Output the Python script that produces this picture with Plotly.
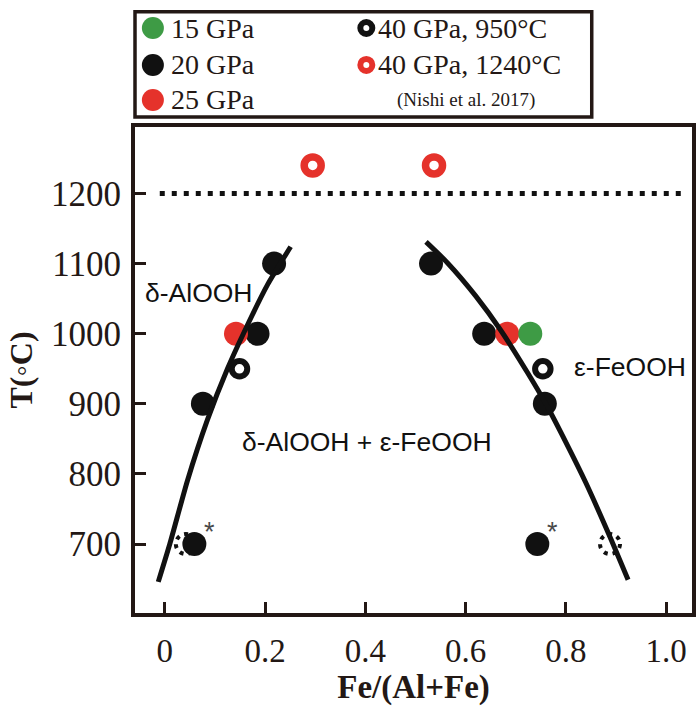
import plotly.graph_objects as go

# ---- run products: Fe/(Al+Fe) of the starting composition vs. temperature ----
fe_15gpa = [0.729]
t_15gpa = [1000]

fe_20gpa = [0.059, 0.076, 0.185, 0.218, 0.531, 0.637, 0.758, 0.743]
t_20gpa = [700, 900, 1000, 1100, 1100, 1000, 900, 700]

fe_25gpa = [0.142, 0.683]
t_25gpa = [1000, 1000]

# Nishi et al. (2017), 40 GPa
fe_40gpa_950 = [0.149, 0.754]
t_40gpa_950 = [950, 950]
fe_40gpa_1240 = [0.295, 0.537]
t_40gpa_1240 = [1240, 1240]

# dotted open symbols and starred runs at 700 °C
fe_dotted = [0.042, 0.888]
t_dotted = [700, 700]
fe_starred = [0.059, 0.743]
t_starred = [700, 700]

# solvus limbs of the δ-AlOOH + ε-FeOOH field
left_fe = [-0.013, 0.010, 0.045, 0.085, 0.125, 0.160, 0.205, 0.251]
left_t = [646, 700, 790, 877, 950, 1005, 1070, 1124]
right_fe = [0.521, 0.564, 0.620, 0.670, 0.723, 0.760, 0.800, 0.840, 0.888, 0.924]
right_t = [1131, 1101, 1054, 1005, 945, 900, 845, 787, 710, 649]

# 1200 °C reference level
ref_fe = [-0.01, 1.04]
ref_t = [1200, 1200]

x_ticks = [0, 0.2, 0.4, 0.6, 0.8, 1.0]
x_ticktext = ["0", "0.2", "0.4", "0.6", "0.8", "1.0"]
y_ticks = [700, 800, 900, 1000, 1100, 1200]

GREEN = "#3E9B45"
RED = "#E5322B"
BLACK = "#111111"
INK = "#231815"
SERIF = "Liberation Serif, Times New Roman, serif"
SANS = "Liberation Sans, Arial, sans-serif"

fig = go.Figure()

# 1200 °C dotted level
fig.add_trace(go.Scatter(x=ref_fe, y=ref_t, mode="lines",
                         line=dict(color=BLACK, width=5, dash="5px,7px"),
                         hoverinfo="skip", showlegend=False))

# filled symbols
for fe, t, col, name in [(fe_20gpa, t_20gpa, BLACK, "20 GPa"),
                         (fe_25gpa, t_25gpa, RED, "25 GPa"),
                         (fe_15gpa, t_15gpa, GREEN, "15 GPa")]:
    fig.add_trace(go.Scatter(x=fe, y=t, mode="markers", name=name,
                             marker=dict(symbol="circle", size=24, color=col,
                                         line=dict(width=0)),
                             showlegend=False))

# phase boundaries
for fe, t in [(left_fe, left_t), (right_fe, right_t)]:
    fig.add_trace(go.Scatter(x=fe, y=t, mode="lines",
                             line=dict(color=BLACK, width=5, shape="spline", smoothing=0.6),
                             hoverinfo="skip", showlegend=False))

# open symbols (40 GPa)
fig.add_trace(go.Scatter(x=fe_40gpa_950, y=t_40gpa_950, mode="markers", name="40 GPa, 950°C",
                         marker=dict(symbol="circle", size=15.5, color="white",
                                     line=dict(color=BLACK, width=6)),
                         showlegend=False))
fig.add_trace(go.Scatter(x=fe_40gpa_1240, y=t_40gpa_1240, mode="markers", name="40 GPa, 1240°C",
                         marker=dict(symbol="circle", size=17, color="white",
                                     line=dict(color=RED, width=7.5)),
                         showlegend=False))

shapes = []
# dotted open circles at 700 °C
for fe, t in zip(fe_dotted, t_dotted):
    shapes.append(dict(type="circle", xref="x", yref="y", xsizemode="pixel", ysizemode="pixel",
                       xanchor=fe, yanchor=t, x0=-10, x1=10, y0=-10, y1=10,
                       line=dict(color=BLACK, width=4, dash="4px,5px"),
                       fillcolor="rgba(0,0,0,0)", layer="below"))

annotations = []
for fe, t in zip(fe_starred, t_starred):
    annotations.append(dict(x=fe, y=t, xref="x", yref="y", text="*", showarrow=False,
                            xshift=15, yshift=12, font=dict(family=SANS, size=27, color="#4a4a4a")))

# field labels
annotations += [
    dict(x=0.069, y=1058, xref="x", yref="y", text="δ-AlOOH", showarrow=False,
         font=dict(family=SANS, size=26.5, color=BLACK)),
    dict(x=0.403, y=845, xref="x", yref="y", text="δ-AlOOH + ε-FeOOH", showarrow=False,
         font=dict(family=SANS, size=26.5, color=BLACK)),
    dict(x=0.928, y=952, xref="x", yref="y", text="ε-FeOOH", showarrow=False,
         font=dict(family=SANS, size=26.5, color=BLACK)),
]

# ---- legend panel above the plot ----
shapes.append(dict(type="rect", xref="paper", yref="paper", x0=0.0, x1=0.82,
                   y0=1.0206, y1=1.2372, line=dict(color=INK, width=3.5),
                   fillcolor="white", layer="above"))

legend_rows = [1.2037, 1.1276, 1.0556]
left_col_x, left_text_x = 0.0321, 0.0606
right_col_x, right_text_x = 0.4153, 0.4330

for yy, col, label in zip(legend_rows, [GREEN, BLACK, RED], ["15 GPa", "20 GPa", "25 GPa"]):
    shapes.append(dict(type="circle", xref="paper", yref="paper", xsizemode="pixel",
                       ysizemode="pixel", xanchor=left_col_x, yanchor=yy,
                       x0=-11, x1=11, y0=-11, y1=11, fillcolor=col,
                       line=dict(width=0), layer="above"))
    annotations.append(dict(x=left_text_x, y=yy, xref="paper", yref="paper", text=label,
                            showarrow=False, xanchor="left", yanchor="middle",
                            font=dict(family=SERIF, size=28, color=INK)))

for yy, col, label in zip(legend_rows[:2], [BLACK, RED], ["40 GPa, 950°C", "40 GPa, 1240°C"]):
    shapes.append(dict(type="circle", xref="paper", yref="paper", xsizemode="pixel",
                       ysizemode="pixel", xanchor=right_col_x, yanchor=yy,
                       x0=-6, x1=6, y0=-6, y1=6, fillcolor="white",
                       line=dict(color=col, width=6), layer="above"))
    annotations.append(dict(x=right_text_x, y=yy, xref="paper", yref="paper", text=label,
                            showarrow=False, xanchor="left", yanchor="middle",
                            font=dict(family=SERIF, size=28, color=INK)))

annotations.append(dict(x=0.5936, y=legend_rows[2], xref="paper", yref="paper",
                        text="(Nishi et al. 2017)", showarrow=False, xanchor="center",
                        yanchor="middle", font=dict(family=SERIF, size=19, color=INK)))

axis_common = dict(showline=True, linewidth=4, linecolor=INK, mirror=True,
                   ticks="inside", ticklen=11, tickwidth=3, tickcolor=INK,
                   showgrid=False, zeroline=False)

fig.update_layout(
    width=700, height=715,
    margin=dict(l=135, r=4, t=127, b=102),
    paper_bgcolor="white", plot_bgcolor="white",
    showlegend=False,
    shapes=shapes, annotations=annotations,
    xaxis=dict(range=[-0.0594, 1.0515], tickvals=x_ticks, ticktext=x_ticktext,
               tickfont=dict(family=SERIF, size=33, color=INK), ticklabelstandoff=5,
               title=dict(text="<b>Fe/(Al+Fe)</b>", standoff=6,
                          font=dict(family=SERIF, size=33, color=INK)),
               **axis_common),
    yaxis=dict(range=[601.6, 1294.9], tickvals=y_ticks,
               tickfont=dict(family=SERIF, size=35, color=INK), ticklabelstandoff=3,
               title=dict(text="<b>T(◦C)</b>", standoff=10,
                          font=dict(family=SERIF, size=32, color=INK)),
               **axis_common),
)

fig.write_html("out.html")
